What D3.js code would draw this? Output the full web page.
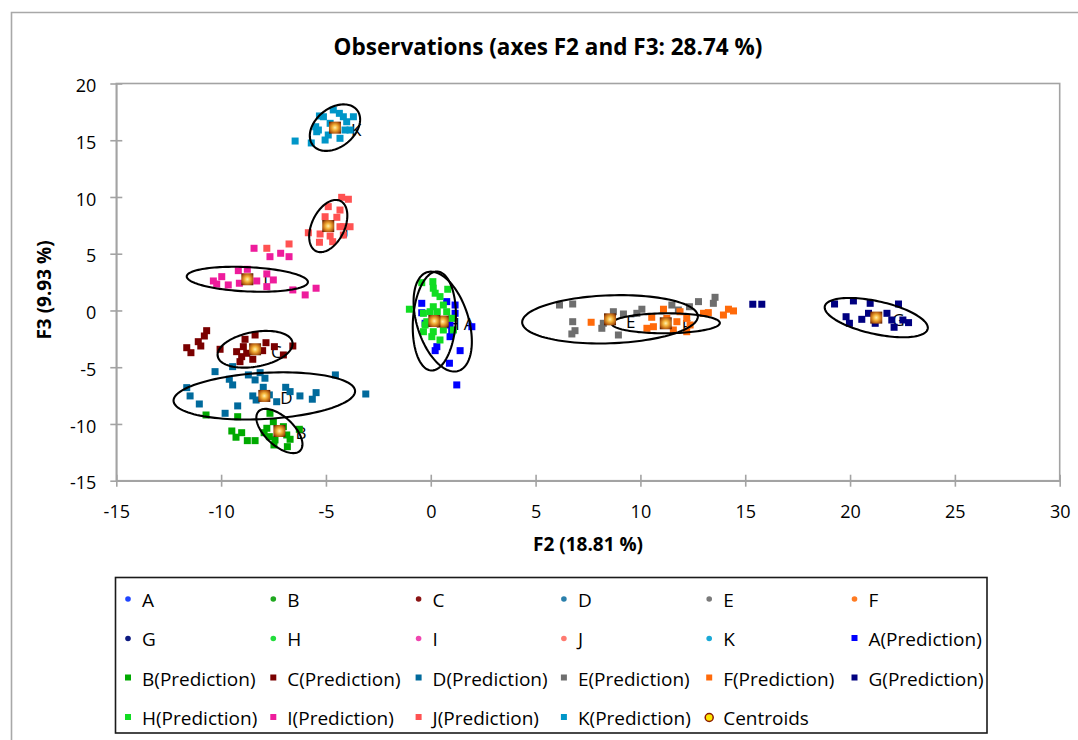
<!DOCTYPE html>
<html>
<head>
<meta charset="utf-8">
<script src="https://cdn.jsdelivr.net/npm/d3@7"></script>
<style>
  body { margin: 0; background: #fff; }
  svg text { font-family: "Open Sans", Lato, sans-serif; fill: #000; }
</style>
</head>
<body>
<svg id="chart" width="1078" height="740"></svg>
<script>
// ---- data -------------------------------------------------------------
const classes = ["A", "B", "C", "D", "E", "F", "G", "H", "I", "J", "K"];
const obsColors  = ["#1f45ff", "#1fa81f", "#8b1414", "#2a7fab", "#7a7a7a", "#ff7b22",
                    "#0d1a80", "#22dd3c", "#f046b0", "#ff7a70", "#1aa9d6"];
const predColors = ["#0000ff", "#00aa00", "#7a0000", "#006a9c", "#6e6e6e", "#ff6a0a",
                    "#000080", "#11dd22", "#ee1c9c", "#ff5252", "#0096c8"];

// class centroids (F2, F3)
const centroidX = [0.57, -7.22, -8.38, -7.94, 8.55, 11.21, 21.25, 0.17, -8.75, -4.89, -4.57];
const centroidY = [-0.98, -10.62, -3.42, -7.53, -0.78, -1.13, -0.63, -0.93, 2.75, 7.44, 16.11];

// confidence ellipses: half-extent on F2, half-extent on F3, correlation
const ellipseSx  = [1.39, 1.10, 1.79, 4.33, 4.19, 2.58, 2.46, 1.03, 2.89, 0.91, 1.20];
const ellipseSy  = [4.40, 1.95, 1.62, 2.08, 2.13, 0.88, 1.73, 4.36, 1.10, 2.30, 2.05];
const ellipseRho = [-0.40, -0.60, 0.30, 0.20, 0.12, 0.03, -0.52, 0.12, -0.22, 0.40, 0.35];

// predicted observations per class, [F2, F3]
const predA = [[-0.43,0.63],[0.76,0.78],[1.16,0.48],[1.16,-0.25],[-0.27,-1.13],[0.92,-1.28],
  [1.96,-1.43],[1.00,-1.87],[0.92,-2.31],[0.29,-3.19],[0.21,-3.54],[1.40,-3.54],[0.89,-4.65],
  [1.24,-6.56],[-0.43,-0.20]];
const predB = [[-10.72,-9.21],[-9.21,-9.36],[-9.49,-10.62],[-9.29,-11.17],[-9.02,-10.77],
  [-8.75,-11.47],[-8.38,-11.47],[-7.67,-9.06],[-7.51,-9.80],[-7.82,-10.38],[-7.95,-10.77],
  [-7.70,-11.12],[-7.43,-11.41],[-7.48,-11.85],[-6.87,-10.97],[-6.71,-11.35],[-6.84,-12.00],
  [-6.27,-10.47],[-7.03,-10.24]];
const predC = [[-10.69,-1.78],[-10.80,-2.25],[-11.09,-2.75],[-10.97,-3.13],[-11.64,-3.28],
  [-11.44,-3.72],[-10.05,-3.42],[-8.86,-2.54],[-8.38,-2.16],[-7.86,-2.84],[-8.94,-3.19],
  [-9.26,-3.63],[-9.02,-4.07],[-8.49,-4.30],[-8.02,-3.54],[-7.46,-3.19],[-6.58,-3.13],
  [-7.03,-3.92],[-8.78,-3.77],[-9.10,-4.51]];
const predD = [[-10.29,-5.39],[-9.45,-4.95],[-9.61,-6.06],[-9.45,-6.56],[-8.70,-5.68],
  [-8.14,-5.48],[-7.91,-5.97],[-8.38,-6.12],[-7.99,-6.77],[-8.49,-7.53],[-8.33,-7.89],
  [-7.70,-7.44],[-6.92,-6.77],[-6.71,-7.15],[-6.24,-7.53],[-5.47,-7.24],[-5.65,-7.82],
  [-4.55,-5.68],[-3.10,-7.36],[-11.64,-6.80],[-11.48,-7.53],[-11.04,-8.24],[-9.21,-8.41],
  [-9.81,-9.06],[-7.35,-8.04]];
const predE = [[6.14,0.48],[6.77,0.57],[6.77,-0.99],[6.88,-1.78],[6.73,-2.07],[8.23,-1.13],
  [8.71,-0.11],[8.95,-2.16],[9.19,-0.31],[9.83,-0.25],[10.07,0.11],[11.50,0.48],[11.81,0.04],
  [12.34,0.33],[12.77,0.78],[13.56,1.16],[13.48,0.63],[8.16,-1.57]];
const predF = [[7.65,-1.04],[10.54,-0.60],[10.62,-1.43],[11.10,0.11],[11.26,-0.69],
  [11.89,-0.11],[11.74,-0.99],[12.21,-0.69],[12.37,-1.28],[12.21,-1.87],[13.01,-0.25],
  [13.24,-0.19],[13.96,-0.40],[14.20,0.11],[14.44,-0.04],[10.31,-1.57],[11.57,-1.72]];
const predG = [[15.36,0.55],[15.79,0.55],[19.26,0.57],[20.16,0.84],[20.96,0.63],[22.31,0.57],
  [19.81,-0.55],[19.97,-1.13],[20.56,-0.78],[20.88,-0.25],[21.20,-1.13],[21.76,-0.25],
  [21.99,-0.84],[22.10,-1.48],[22.79,-1.07],[22.52,-0.84]];
const predH = [[-0.43,2.45],[0.10,2.54],[0.12,1.96],[0.21,1.52],[0.44,1.22],[0.81,1.87],
  [0.60,0.48],[0.12,0.33],[-0.03,-0.11],[-0.35,-0.25],[-1.02,0.11],[0.31,-0.11],[0.76,-0.11],
  [-0.19,-0.99],[-0.27,-1.28],[-0.35,-1.87],[0.12,-1.87],[0.60,-1.72],[0.05,-2.31],
  [0.44,-2.60],[1.08,-1.72],[1.00,-0.69]];
const predI = [[-8.43,5.48],[-7.16,5.04],[-7.67,4.74],[-6.76,4.74],[-9.18,3.51],[-8.75,3.63],
  [-7.82,3.22],[-7.51,2.69],[-9.97,2.98],[-10.37,2.60],[-10.21,2.33],[-9.66,2.25],
  [-9.13,2.40],[-8.30,2.60],[-7.82,2.10],[-6.58,1.81],[-5.99,1.37],[-5.47,1.96]];
const predJ = [[-4.25,9.97],[-3.93,9.80],[-4.89,9.15],[-4.33,8.85],[-5.04,8.26],[-4.48,8.21],
  [-4.17,7.38],[-3.85,7.38],[-4.33,7.38],[-5.84,6.85],[-5.28,6.74],[-4.80,6.56],[-5.31,6.01],
  [-4.68,6.06],[-4.17,6.65],[-7.82,5.48],[-6.76,5.86]];
const predK = [[-6.47,14.93],[-5.70,14.76],[-5.31,17.14],[-5.12,17.07],[-5.49,16.19],
  [-5.44,15.75],[-4.65,17.67],[-4.36,17.37],[-4.17,17.07],[-3.69,17.07],[-4.01,16.63],
  [-4.09,15.90],[-3.85,15.90],[-4.89,15.46],[-4.33,15.17],[-5.04,15.02],[-5.36,15.90],
  [-4.80,16.49]];
const predictions = [predA, predB, predC, predD, predE, predF, predG, predH, predI, predJ, predK];

const xTicks = [-15, -10, -5, 0, 5, 10, 15, 20, 25, 30];
const yTicks = [-15, -10, -5, 0, 5, 10, 15, 20];

const chartTitle = "Observations (axes F2 and F3: 28.74 %)";
const xTitle = "F2 (18.81 %)";
const yTitle = "F3 (9.93 %)";

// ---- layout -------------------------------------------------------------
const svg = d3.select("#chart");
const plot = { left: 116.3, right: 1059.7, top: 83.5, bottom: 480.7 };
const axisGrey = "#a3a3a3";

const x = d3.scaleLinear().domain([-15, 30]).range([plot.left, plot.right]);
const y = d3.scaleLinear().domain([-15, 20]).range([plot.bottom, plot.top]);

// outer chart-area frame (runs off the right and bottom edges)
svg.append("path")
  .attr("d", "M11.5,742 L11.5,12.5 L1080,12.5")
  .attr("fill", "none").attr("stroke", "#a8a8a8").attr("stroke-width", 1.6);

// plot-area frame
svg.append("rect")
  .attr("x", plot.left).attr("y", plot.top)
  .attr("width", plot.right - plot.left).attr("height", plot.bottom - plot.top)
  .attr("fill", "#fff").attr("stroke", axisGrey).attr("stroke-width", 1.6);

// title
svg.append("text")
  .attr("x", 548).attr("y", 55)
  .attr("text-anchor", "middle")
  .style("font-size", "22.5px").style("font-weight", "bold")
  .text(chartTitle);

// axes (plain hyphen for negative numbers)
const tickFmt = d => String(d);
const xAxis = svg.append("g")
  .attr("transform", `translate(0,${plot.bottom})`)
  .call(d3.axisBottom(x).tickValues(xTicks).tickSizeOuter(0).tickFormat(tickFmt));
const yAxis = svg.append("g")
  .attr("transform", `translate(${plot.left},0)`)
  .call(d3.axisLeft(y).tickValues(yTicks).tickSizeOuter(0).tickFormat(tickFmt));

[xAxis, yAxis].forEach(g => {
  g.select(".domain").attr("stroke", axisGrey).attr("stroke-width", 1.6);
  g.selectAll(".tick line").attr("stroke", axisGrey).attr("stroke-width", 1.6);
  g.selectAll(".tick text").style("font-size", "18px")
    .style("font-family", "'Open Sans', Lato, sans-serif").attr("fill", "#000");
});
xAxis.selectAll(".tick line").attr("y1", -6).attr("y2", 6);
xAxis.selectAll(".tick text").attr("y", 37).attr("dy", null);
yAxis.selectAll(".tick line").attr("x1", -6).attr("x2", 6);
yAxis.selectAll(".tick text").attr("x", -20).attr("dy", "0.45em");

// axis titles
svg.append("text")
  .attr("x", 588).attr("y", 551)
  .attr("text-anchor", "middle")
  .style("font-size", "19px").style("font-weight", "bold")
  .text(xTitle);
svg.append("text")
  .attr("transform", "translate(51,290) rotate(-90)")
  .attr("text-anchor", "middle")
  .style("font-size", "19px").style("font-weight", "bold")
  .text(yTitle);

// ---- marks --------------------------------------------------------------
const marks = svg.append("g");

// centroid letters (partly covered by the points); H and A sit side by side
const labelDx = c => (c === "H" ? 13 : c === "A" ? 21 : 16);
marks.selectAll("text.centroid-label")
  .data(classes)
  .join("text")
  .attr("class", "centroid-label")
  .attr("x", (d, i) => x(centroidX[i]) + labelDx(d))
  .attr("y", (d, i) => y(centroidY[i]) + 8.5)
  .style("font-size", "17px")
  .text(d => d);

// predicted observations (squares)
const sq = 7;
classes.forEach((c, i) => {
  marks.append("g")
    .selectAll("rect")
    .data(predictions[i])
    .join("rect")
    .attr("x", d => x(d[0]) - sq / 2)
    .attr("y", d => y(d[1]) - sq / 2)
    .attr("width", sq).attr("height", sq)
    .attr("fill", predColors[i]);
});

// confidence ellipses
const steps = d3.range(0, 2 * Math.PI, Math.PI / 60);
const ellipseLine = d3.line().curve(d3.curveLinearClosed);
classes.forEach((c, i) => {
  const r = ellipseRho[i], k = Math.sqrt(1 - r * r);
  const pts = steps.map(t => [
    x(centroidX[i] + ellipseSx[i] * Math.cos(t)),
    y(centroidY[i] + ellipseSy[i] * (r * Math.cos(t) + k * Math.sin(t)))
  ]);
  marks.append("path")
    .attr("d", ellipseLine(pts))
    .attr("fill", "none")
    .attr("stroke", "#000")
    .attr("stroke-width", 2.1);
});

// centroids: small shaded squares
const defs = svg.append("defs");
const grad = defs.append("radialGradient").attr("id", "centroidFill")
  .attr("cx", "50%").attr("cy", "50%").attr("r", "65%");
grad.append("stop").attr("offset", "0%").attr("stop-color", "#fff3b0");
grad.append("stop").attr("offset", "35%").attr("stop-color", "#f4b23a");
grad.append("stop").attr("offset", "75%").attr("stop-color", "#b35a10");
grad.append("stop").attr("offset", "100%").attr("stop-color", "#5a1c00");

const cs = 12;
marks.append("g")
  .selectAll("rect")
  .data(classes)
  .join("rect")
  .attr("x", (d, i) => x(centroidX[i]) - cs / 2)
  .attr("y", (d, i) => y(centroidY[i]) - cs / 2)
  .attr("width", cs).attr("height", cs)
  .attr("fill", "url(#centroidFill)");

// ---- legend -------------------------------------------------------------
const legendItems = [
  ...classes.map((c, i) => ({ label: c, kind: "dot", color: obsColors[i] })),
  ...classes.map((c, i) => ({ label: c + "(Prediction)", kind: "square", color: predColors[i] })),
  { label: "Centroids", kind: "centroid" }
];
const legendBox = { x: 115.5, y: 577.5, w: 871.5, h: 155.5 };
svg.append("rect")
  .attr("x", legendBox.x).attr("y", legendBox.y)
  .attr("width", legendBox.w).attr("height", legendBox.h)
  .attr("fill", "#fff").attr("stroke", "#1a1a1a").attr("stroke-width", 1.6);

const colW = 145.3, rowH = 39.5, col0 = 128, row0 = 600;
const legend = svg.append("g");
legendItems.forEach((it, n) => {
  const cx = col0 + (n % 6) * colW;
  const cy = row0 + Math.floor(n / 6) * rowH;
  const g = legend.append("g");
  if (it.kind === "dot") {
    g.append("circle").attr("cx", cx).attr("cy", cy - 1).attr("r", 2.8).attr("fill", it.color);
  } else if (it.kind === "square") {
    g.append("rect").attr("x", cx - 3).attr("y", cy - 4.5).attr("width", 6).attr("height", 6)
      .attr("fill", it.color);
  } else {
    g.append("circle").attr("cx", cx).attr("cy", cy - 1).attr("r", 4)
      .attr("fill", "#ffe600").attr("stroke", "#8b1a00").attr("stroke-width", 1.5);
  }
  g.append("text")
    .attr("x", cx + 14).attr("y", cy + 6.5)
    .style("font-size", "19px")
    .text(it.label);
});
</script>
</body>
</html>
